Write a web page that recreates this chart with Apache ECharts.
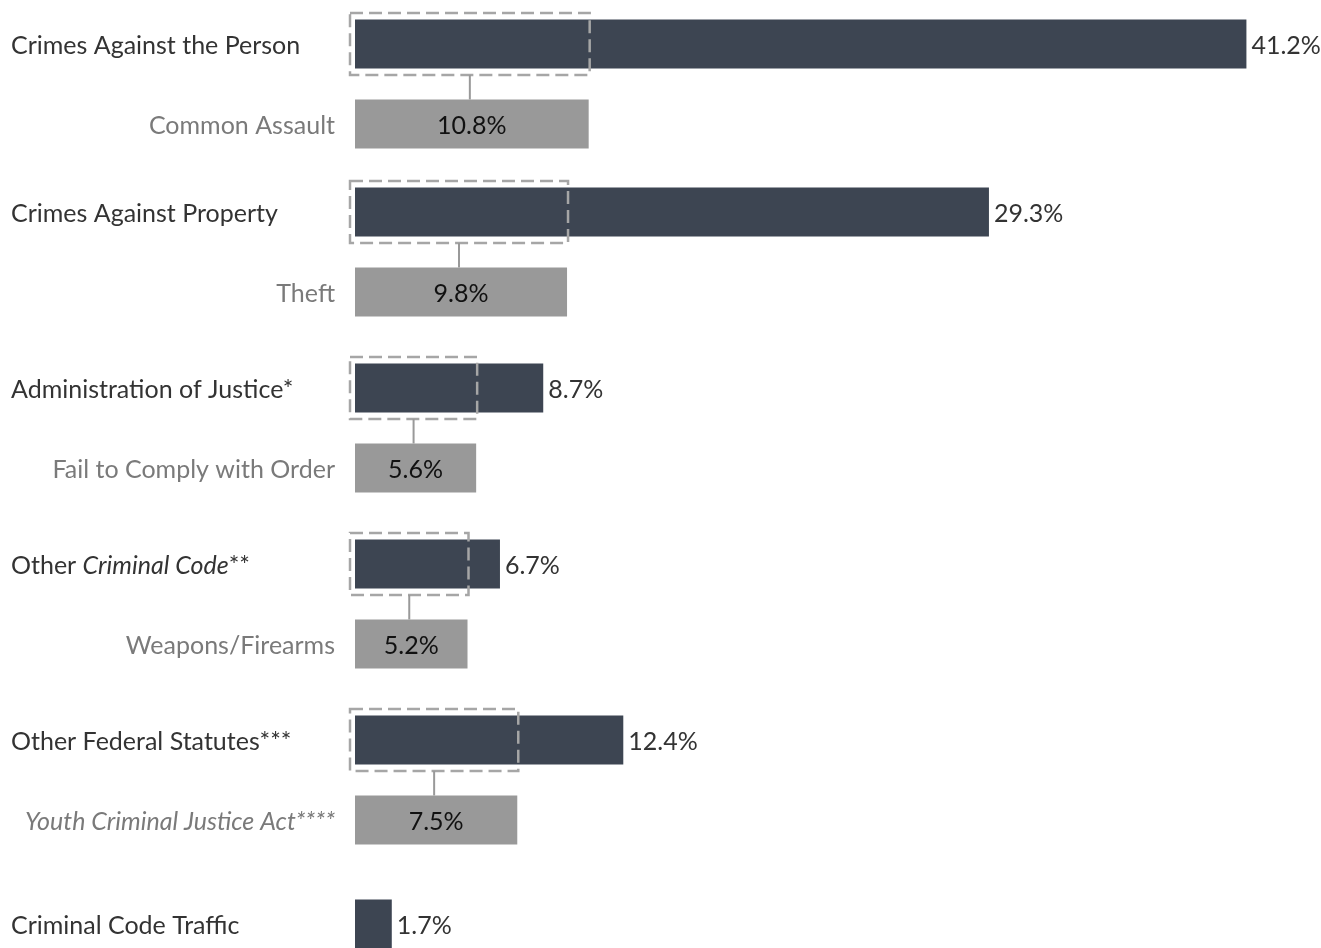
<!DOCTYPE html>
<html>
<head>
<meta charset="utf-8">
<script src="https://cdn.jsdelivr.net/npm/echarts@6/dist/echarts.min.js"></script>
<style>
  html, body { margin: 0; padding: 0; background: #ffffff; }
  #chart { width: 1321px; height: 948px; }
</style>
</head>
<body>
<div id="chart"></div>
<script>
// ---- data ----
const mainCategories = ['Crimes Against the Person', 'Crimes Against Property', 'Administration of Justice*', 'Other Criminal Code**', 'Other Federal Statutes***', 'Criminal Code Traffic'];
const mainValues = [41.2, 29.3, 8.7, 6.7, 12.4, 1.7];
const subCategories = ['Common Assault', 'Theft', 'Fail to Comply with Order', 'Weapons/Firearms', 'Youth Criminal Justice Act****', null];
const subValues = [10.8, 9.8, 5.6, 5.2, 7.5, null];

// ---- layout (slots of 8px) ----
const PAIR_GAP = 10;
const GROUP_GAPS = [11, 12, 12, 12, 13];

const FONT = 'Lato';
const FS = 25;
const TY = 1.5; // text vertical nudge

const mainSlots = [], subSlots = [];
let s = 0;
for (let i = 0; i < mainCategories.length; i++) {
  mainSlots.push(s);
  if (subCategories[i] != null) {
    subSlots.push(s + PAIR_GAP);
    s += PAIR_GAP + (GROUP_GAPS[i] || 0);
  } else {
    subSlots.push(null);
  }
}

const rows = mainCategories.map((name, i) => [mainValues[i], mainSlots[i], subValues[i] == null ? -1 : subValues[i], subSlots[i] == null ? -1 : subSlots[i], i]);

const chart = echarts.init(document.getElementById('chart'), null, { renderer: 'canvas' });

const option = {
  animation: false,
  grid: { left: 355, right: 14, top: 0, bottom: 0 },
  xAxis: { type: 'value', min: 0, max: 44, show: false },
  yAxis: { type: 'value', inverse: true, min: -5.5, max: 113, show: false },
  series: [{
    type: 'custom',
    clip: false,
    data: rows,
    renderItem: function (params, api) {
      const mv = api.value(0), ms = api.value(1), sv = api.value(2), ss = api.value(3), idx = api.value(4);
      const barH = api.size([0, 6.125])[1];
      const p0 = api.coord([0, ms]);
      const p1 = api.coord([mv, ms]);
      const children = [];
      const name = mainCategories[idx];
      // main category label
      let mainText = name, rich = {};
      if (name.indexOf('Criminal Code**') >= 0) {
        mainText = 'Other {i|Criminal Code}**';
        rich = { i: { fontStyle: 'italic', fontFamily: FONT, fontSize: FS, fill: '#333333' } };
      }
      children.push({ type: 'text', style: { text: mainText, rich: rich, x: 11, y: p0[1] + TY, fill: '#333333', fontFamily: FONT, fontSize: FS, align: 'left', verticalAlign: 'middle' } });
      children.push({ type: 'rect', shape: { x: p0[0], y: p0[1] - barH / 2, width: p1[0] - p0[0], height: barH }, style: { fill: '#3d4552' } });
      children.push({ type: 'text', style: { text: mv.toFixed(1) + '%', x: p1[0] + 5, y: p0[1] + TY, fill: '#333333', fontFamily: FONT, fontSize: FS, align: 'left', verticalAlign: 'middle' } });
      if (sv >= 0) {
        const q0 = api.coord([0, ss]);
        const q1 = api.coord([sv, ss]);
        // dashed box
        const bx = p0[0] - 5, by = p0[1] - barH / 2 - 6.5;
        const bw = q1[0] + 1 - bx, bh = barH + 13;
        children.push({ type: 'rect', shape: { x: bx, y: by, width: bw, height: bh }, style: { fill: null, stroke: '#a6a6a6', lineWidth: 2.5, lineDash: [13, 6] } });
        // connector
        const cx = bx + bw / 2;
        children.push({ type: 'line', shape: { x1: cx, y1: by + bh, x2: cx, y2: q0[1] - barH / 2 }, style: { stroke: '#999999', lineWidth: 2 } });
        children.push({ type: 'rect', shape: { x: q0[0], y: q0[1] - barH / 2, width: q1[0] - q0[0], height: barH }, style: { fill: '#999999' } });
        children.push({ type: 'text', style: { text: sv.toFixed(1) + '%', x: (q0[0] + q1[0]) / 2, y: q0[1] + TY, fill: '#111111', fontFamily: FONT, fontSize: FS, align: 'center', verticalAlign: 'middle' } });
        const subName = subCategories[idx];
        const isItalic = subName.indexOf('Youth') === 0;
        children.push({ type: 'text', style: { text: subName, x: 335, y: q0[1] + TY, fill: '#7a7a7a', fontFamily: FONT, fontSize: FS, fontStyle: isItalic ? 'italic' : 'normal', align: 'right', verticalAlign: 'middle' } });
      }
      return { type: 'group', children: children };
    }
  }]
};
chart.setOption(option);
</script>
</body>
</html>
